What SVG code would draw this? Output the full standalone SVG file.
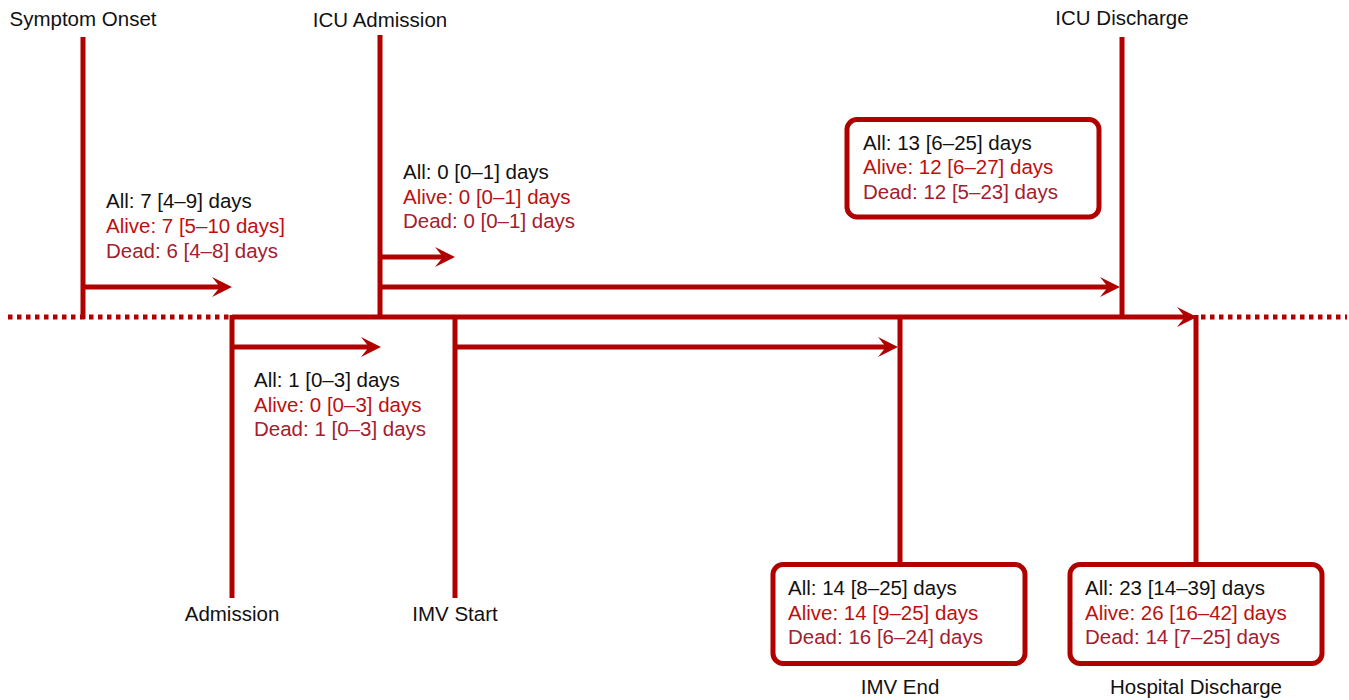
<svg xmlns="http://www.w3.org/2000/svg" width="1349" height="700" viewBox="0 0 1349 700">
<style>
text{font-family:"Liberation Sans",Arial,sans-serif;font-size:20.5px}
.lbl{text-anchor:middle;fill:#111}
.all{fill:#111}
.alive{fill:#BE0F0F}
.dead{fill:#A3202E}
.ln{stroke:#B00000;stroke-width:5;fill:none}
.dot{stroke:#B00000;stroke-width:5;fill:none;stroke-dasharray:4.5 4.5}
.box{stroke:#B00000;stroke-width:5;fill:#fff}
</style>
<defs>
<marker id="ah" markerUnits="userSpaceOnUse" viewBox="0 0 20 20" markerWidth="20" markerHeight="20" refX="8" refY="10" orient="auto">
<path d="M0,0 L20,10 L0,20 L8,10 Z" fill="#B00000"/>
</marker>
</defs>
<g id="connectors">
<line class="dot" x1="8" y1="317" x2="232" y2="317"/>
<line class="dot" x1="1201" y1="317" x2="1347" y2="317"/>
<line class="ln" x1="232" y1="317" x2="1185" y2="317" marker-end="url(#ah)"/>
<line class="ln" x1="83" y1="37" x2="83" y2="319"/>
<line class="ln" x1="380" y1="35" x2="380" y2="319"/>
<line class="ln" x1="1122" y1="37" x2="1122" y2="319"/>
<line class="ln" x1="232" y1="315" x2="232" y2="598"/>
<line class="ln" x1="455" y1="315" x2="455" y2="598"/>
<line class="ln" x1="900" y1="315" x2="900" y2="566"/>
<line class="ln" x1="1196" y1="315" x2="1196" y2="566"/>
<line class="ln" x1="83" y1="287" x2="220" y2="287" marker-end="url(#ah)"/>
<line class="ln" x1="380" y1="257" x2="443" y2="257" marker-end="url(#ah)"/>
<line class="ln" x1="380" y1="287" x2="1108" y2="287" marker-end="url(#ah)"/>
<line class="ln" x1="232" y1="347" x2="369" y2="347" marker-end="url(#ah)"/>
<line class="ln" x1="455" y1="347" x2="886" y2="347" marker-end="url(#ah)"/>
</g>
<g id="symptom-onset">
<text class="lbl" x="83" y="26">Symptom Onset</text>
</g>
<g id="icu-admission">
<text class="lbl" x="380" y="27">ICU Admission</text>
</g>
<g id="icu-discharge">
<text class="lbl" x="1122" y="25">ICU Discharge</text>
</g>
<g id="admission">
<text class="lbl" x="232" y="621">Admission</text>
</g>
<g id="imv-start">
<text class="lbl" x="455" y="621">IMV Start</text>
</g>
<g id="imv-end">
<text class="lbl" x="900" y="694">IMV End</text>
</g>
<g id="hospital-discharge">
<text class="lbl" x="1196" y="694">Hospital Discharge</text>
</g>
<g id="stat-onset-admission">
<text class="all" x="106" y="208">All: 7 [4–9] days</text>
<text class="alive" x="106" y="233">Alive: 7 [5–10 days]</text>
<text class="dead" x="106" y="258">Dead: 6 [4–8] days</text>
</g>
<g id="stat-icu-adm">
<text class="all" x="403" y="179">All: 0 [0–1] days</text>
<text class="alive" x="403" y="204">Alive: 0 [0–1] days</text>
<text class="dead" x="403" y="228">Dead: 0 [0–1] days</text>
</g>
<g id="stat-icu-stay">
<rect class="box" x="847" y="119.5" width="252" height="97.5" rx="10"/>
<text class="all" x="863" y="150">All: 13 [6–25] days</text>
<text class="alive" x="863" y="174">Alive: 12 [6–27] days</text>
<text class="dead" x="863" y="199">Dead: 12 [5–23] days</text>
</g>
<g id="stat-adm-imv">
<text class="all" x="254" y="387">All: 1 [0–3] days</text>
<text class="alive" x="254" y="412">Alive: 0 [0–3] days</text>
<text class="dead" x="254" y="436">Dead: 1 [0–3] days</text>
</g>
<g id="stat-imv">
<rect class="box" x="773" y="564.5" width="252" height="99" rx="10"/>
<text class="all" x="788" y="595">All: 14 [8–25] days</text>
<text class="alive" x="788" y="620">Alive: 14 [9–25] days</text>
<text class="dead" x="788" y="644">Dead: 16 [6–24] days</text>
</g>
<g id="stat-hospital">
<rect class="box" x="1070" y="564.5" width="252" height="99" rx="10"/>
<text class="all" x="1085" y="595">All: 23 [14–39] days</text>
<text class="alive" x="1085" y="620">Alive: 26 [16–42] days</text>
<text class="dead" x="1085" y="644">Dead: 14 [7–25] days</text>
</g>
</svg>
